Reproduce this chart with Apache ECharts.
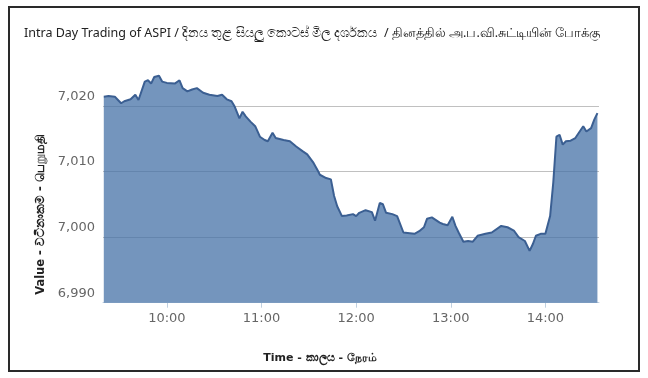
<!DOCTYPE html>
<html>
<head>
<meta charset="utf-8">
<script src="https://cdn.jsdelivr.net/npm/echarts@6/dist/echarts.min.js"></script>
<style>
html,body{margin:0;padding:0;background:#fff;}
#chart{width:648px;height:378px;}
</style>
</head>
<body>
<div id="chart"></div>
<script>
const titleText = 'Intra Day Trading of ASPI / දිනය තුළ සියලු කොටස් මිල දර්ශකය  / தினத்தில் அ.ப.வி.சுட்டியின் போக்கு';
const xAxisName = 'Time - කාලය - நேரம்';
const yAxisName = 'Value - වටිනාකම - பெறுமதி';
const dateBase = '2024-01-01 ';
const xMin = '09:19:30';
const xMax = '14:34:00';
const yTicks = [6990, 7000, 7010, 7020];

const times = [
  '09:20','09:21','09:23','09:27','09:29','09:31','09:33','09:37','09:40','09:41',
  '09:42','09:46','09:48','09:50','09:52','09:55','09:57','10:00','10:05','10:08',
  '10:10','10:13','10:16','10:19','10:23','10:27','10:32','10:35','10:38','10:41',
  '10:43','10:46','10:48','10:50','10:53','10:56','10:59','11:02','11:04','11:07',
  '11:09','11:14','11:18','11:22','11:26','11:29','11:33','11:36','11:37','11:41',
  '11:44','11:46','11:48','11:51','11:54','11:58','12:00','12:02','12:06','12:10',
  '12:12','12:15','12:17','12:19','12:23','12:26','12:30','12:34','12:37','12:40',
  '12:43','12:45','12:48','12:53','12:55','12:58','13:01','13:03','13:05','13:08',
  '13:11','13:14','13:17','13:22','13:26','13:32','13:36','13:37','13:40','13:43',
  '13:47','13:50','13:52','13:54','13:57','14:00','14:03','14:05','14:07','14:09',
  '14:11','14:13','14:16','14:19','14:24','14:26','14:29','14:31','14:33'
];
const values = [
  7021.4,7021.7,7021.5,7021.4,7020.9,7020.4,7020.7,7021.0,7021.7,7022.0,
  7020.9,7023.7,7023.9,7023.4,7024.4,7024.6,7023.7,7023.5,7023.4,7023.9,
  7022.7,7022.2,7022.5,7022.7,7022.0,7021.7,7021.5,7021.7,7021.0,7020.7,
  7019.9,7018.1,7019.1,7018.4,7017.6,7016.9,7015.3,7014.8,7014.6,7015.9,
  7015.1,7014.8,7014.6,7013.8,7013.1,7012.6,7011.3,7010.0,7009.5,7009.0,
  7008.8,7006.3,7004.7,7003.2,7003.3,7003.5,7003.2,7003.7,7004.1,7003.8,
  7002.5,7005.2,7005.0,7003.7,7003.5,7003.2,7000.7,7000.6,7000.5,7000.9,
  7001.5,7002.8,7003.0,7002.2,7002.0,7001.8,7003.1,7001.7,7000.7,6999.3,
  6999.4,6999.3,7000.2,7000.5,7000.7,7001.7,7001.5,7001.8,7001.0,7000.0,
  6999.4,6997.9,6998.9,7000.2,7000.5,7000.5,7003.2,7008.3,7015.3,7015.6,
  7014.1,7014.6,7014.7,7015.1,7016.9,7016.1,7016.6,7017.9,7018.9
];

const seriesData = times.map((t, i) => [dateBase + t, values[i]]);

const chart = echarts.init(document.getElementById('chart'));
chart.setOption({
  animation: false,
  backgroundColor: '#fff',
  textStyle: { fontFamily: 'DejaVu Sans, sans-serif' },
  title: {
    text: titleText,
    left: 19,
    top: 22,
    textStyle: { fontSize: 12.5, fontWeight: 'normal', color: '#222', fontFamily: 'Noto Sans, DejaVu Sans, sans-serif' }
  },
  graphic: [{
    type: 'rect',
    shape: { x: 9, y: 7, width: 630, height: 364 },
    style: { fill: 'none', stroke: '#2a2a2a', lineWidth: 2 },
    silent: true,
    z: 100
  }],
  grid: { left: 103, right: 49, top: 66.5, bottom: 75.3 },
  xAxis: {
    type: 'time',
    min: dateBase + xMin,
    max: dateBase + xMax,
    minInterval: 3600000,
    maxInterval: 3600000,
    name: xAxisName,
    nameLocation: 'middle',
    nameGap: 50,
    nameTextStyle: { fontSize: 11, fontWeight: 'bold', color: '#222', padding: [0, 62, 0, 0] },
    axisLine: { show: true, lineStyle: { color: '#C0D0E0', width: 1 } },
    axisTick: { show: true, length: 5, lineStyle: { color: '#C0D0E0' } },
    axisLabel: {
      color: '#666', fontSize: 13, margin: 9,
      showMinLabel: false, showMaxLabel: false,
      formatter: function (v) {
        const d = new Date(v);
        if (d.getMinutes() !== 0 || d.getSeconds() !== 0) return '';
        return String(d.getHours()).padStart(2, '0') + ':00';
      }
    },
    splitLine: { show: false }
  },
  yAxis: {
    type: 'value',
    min: yTicks[0],
    max: 7026,
    interval: 10,
    name: yAxisName,
    nameLocation: 'middle',
    nameGap: 52,
    nameTextStyle: { fontSize: 11.5, fontWeight: 'bold', color: '#222', padding: [0, 60, 0, 0] },
    axisLine: { show: false },
    axisTick: { show: false },
    axisLabel: {
      color: '#666', fontSize: 13, margin: 8,
      verticalAlign: 'bottom', padding: [0, 0, 3, 0],
      showMaxLabel: false,
      formatter: function (v) {
        return yTicks.indexOf(v) >= 0 ? v.toLocaleString('en-US') : '';
      }
    },
    splitLine: {
      show: true,
      showMaxLine: false,
      lineStyle: { color: ['#C0C0C0', '#C0C0C0', '#C0C0C0', '#C0C0C0', 'rgba(0,0,0,0)'], width: 1 }
    }
  },
  series: [{
    type: 'line',
    data: seriesData,
    showSymbol: false,
    symbol: 'none',
    lineStyle: { color: '#3b5f92', width: 2 },
    areaStyle: { color: '#4572A7', opacity: 0.75 },
    z: 2
  }]
});
</script>
</body>
</html>
